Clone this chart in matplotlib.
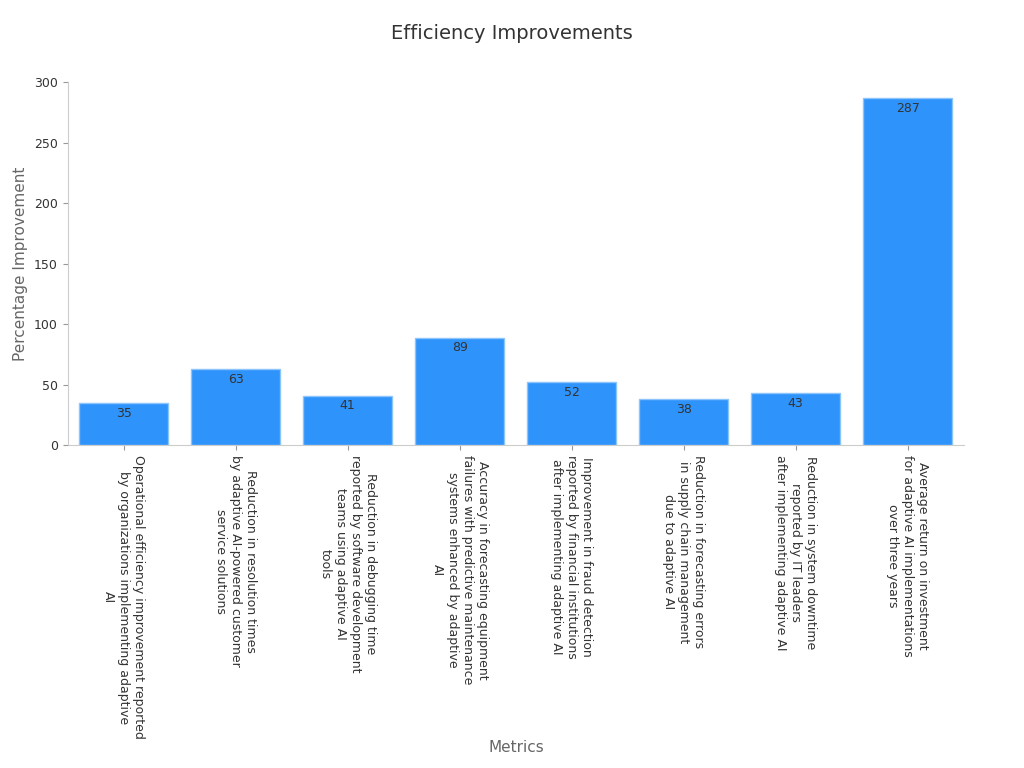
import matplotlib.pyplot as plt

categories = [
    "Operational efficiency improvement reported\nby organizations implementing adaptive\nAI",
    "Reduction in resolution times\nby adaptive AI-powered customer\nservice solutions",
    "Reduction in debugging time\nreported by software development\nteams using adaptive AI\ntools",
    "Accuracy in forecasting equipment\nfailures with predictive maintenance\nsystems enhanced by adaptive\nAI",
    "Improvement in fraud detection\nreported by financial institutions\nafter implementing adaptive AI",
    "Reduction in forecasting errors\nin supply chain management\ndue to adaptive AI",
    "Reduction in system downtime\nreported by IT leaders\nafter implementing adaptive AI",
    "Average return on investment\nfor adaptive AI implementations\nover three years",
]
values = [35, 63, 41, 89, 52, 38, 43, 287]

fig = plt.figure(figsize=(10.24, 7.68), dpi=100)
ax = fig.add_axes([0.066, 0.42, 0.875, 0.473])
x = range(len(values))
bars = ax.bar(x, values, width=0.8, color="#2e93fa", edgecolor="#8cc4fc", linewidth=1)
for b, v in zip(bars, values):
    ax.text(b.get_x() + b.get_width() / 2, v - 3, str(v), ha="center", va="top",
            fontsize=9, color="#333333")

ax.set_xlim(-0.5, len(values) - 0.5)
ax.set_ylim(0, 300)
ax.set_yticks(range(0, 301, 50))
ax.set_xticks(list(x))
ax.set_xticklabels(categories, rotation=270, ha="center", va="top",
                   fontsize=9, color="#333333", rotation_mode="default")
ax.tick_params(axis="y", labelsize=9, colors="#333333")
ax.tick_params(axis="both", color="#999999")
for s in ["top", "right"]:
    ax.spines[s].set_visible(False)
for s in ["left", "bottom"]:
    ax.spines[s].set_color("#cccccc")

ax.set_ylabel("Percentage Improvement", fontsize=11, color="#666666")
fig.text(0.504, 0.021, "Metrics", ha="center", fontsize=11, color="#666666")
fig.text(0.5, 0.957, "Efficiency Improvements", ha="center", va="center",
         fontsize=14, color="#333333")

fig.savefig("out.png", dpi=100)
